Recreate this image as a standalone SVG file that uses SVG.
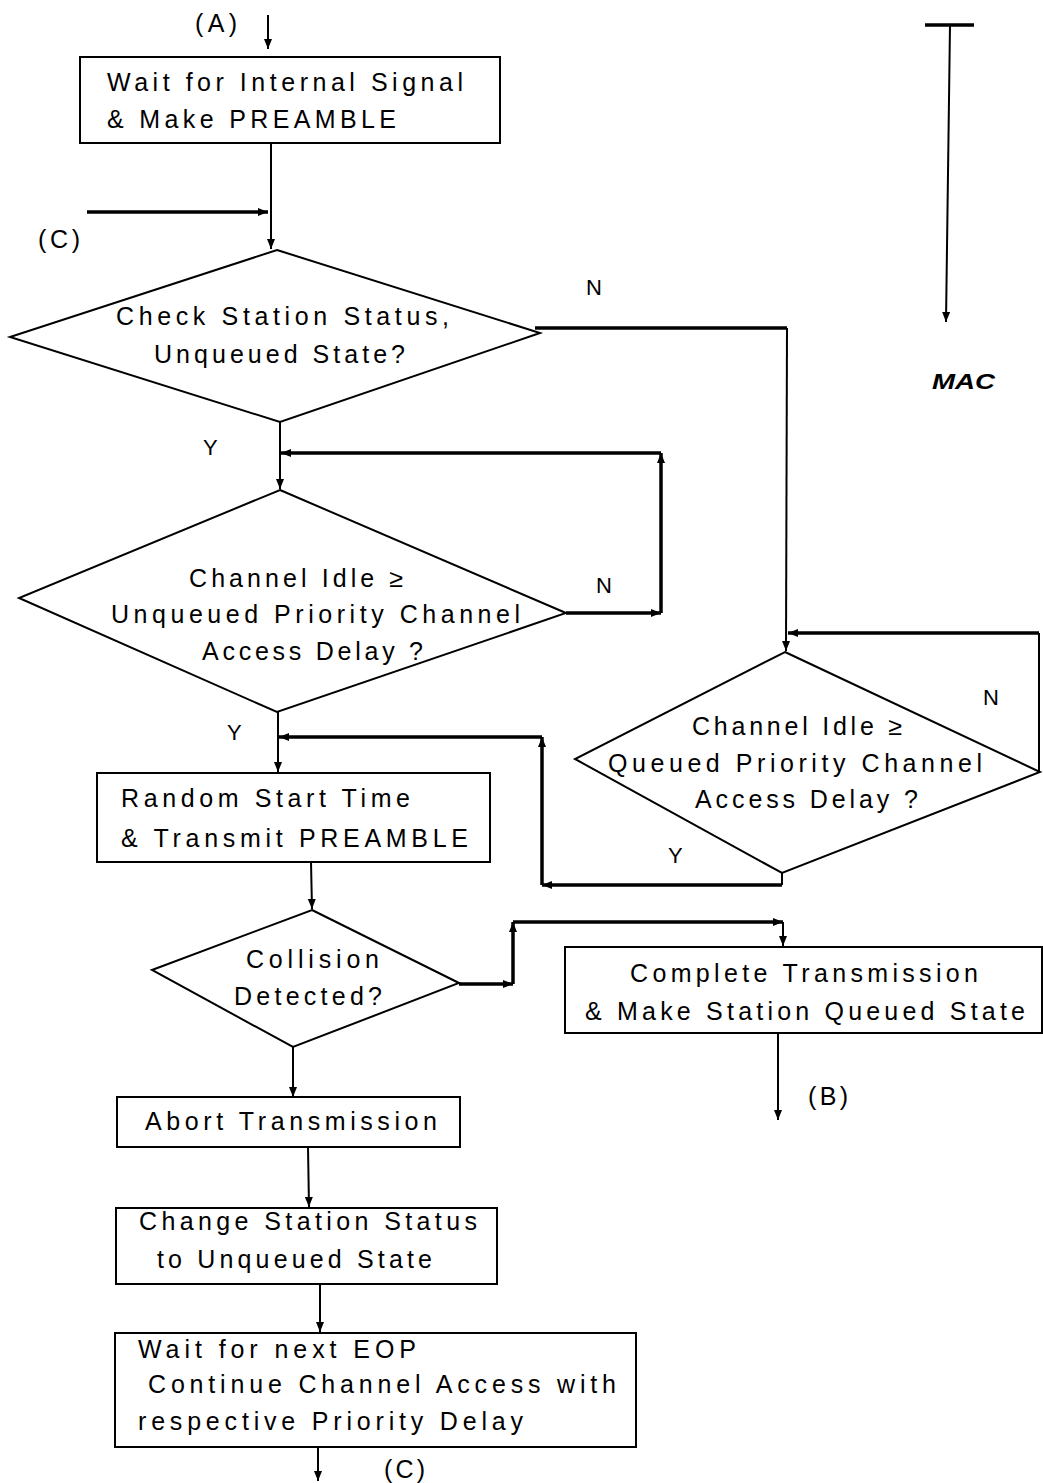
<svg xmlns="http://www.w3.org/2000/svg" width="1043" height="1483" viewBox="0 0 1043 1483">
<style>
.t{font-family:"Liberation Sans",Arial,sans-serif;font-size:25px;fill:#000}
.l{font-family:"Liberation Sans",Arial,sans-serif;font-size:22px;fill:#000}
.s{fill:#fff;stroke:#000;stroke-width:2}
.c{fill:none;stroke:#000;stroke-width:2}
.k{fill:none;stroke:#000;stroke-width:3.5}
</style>
<defs>
<marker id="a" markerUnits="userSpaceOnUse" markerWidth="12" markerHeight="10" refX="10" refY="5" orient="auto">
<path d="M0,1 L10,5 L0,9 Z" fill="#000"/>
</marker>
</defs>
<rect width="1043" height="1483" fill="#fff"/>

<g id="connectors">
<line class="c" x1="268" y1="15" x2="268" y2="49" marker-end="url(#a)"/>
<line class="c" x1="271" y1="143" x2="271" y2="249" marker-end="url(#a)"/>
<line class="k" x1="87" y1="212" x2="268" y2="212" marker-end="url(#a)"/>
<polyline class="k" points="535,328 787,328"/>
<line class="c" x1="787" y1="328" x2="786" y2="651" marker-end="url(#a)"/>
<line class="c" x1="280" y1="422" x2="280" y2="489" marker-end="url(#a)"/>
<line class="k" x1="566" y1="613" x2="661" y2="613" marker-end="url(#a)"/>
<line class="k" x1="661" y1="613" x2="661" y2="453" marker-end="url(#a)"/>
<line class="k" x1="661" y1="453" x2="281" y2="453" marker-end="url(#a)"/>
<line class="c" x1="278" y1="712" x2="278" y2="772" marker-end="url(#a)"/>
<line class="c" x1="1039" y1="772" x2="1039" y2="633"/>
<line class="k" x1="1039" y1="633" x2="788" y2="633" marker-end="url(#a)"/>
<line class="c" x1="782" y1="873" x2="782" y2="885"/>
<line class="k" x1="782" y1="885" x2="542" y2="885" marker-end="url(#a)"/>
<line class="k" x1="542" y1="885" x2="542" y2="737" marker-end="url(#a)"/>
<line class="k" x1="542" y1="737" x2="279" y2="737" marker-end="url(#a)"/>
<line class="c" x1="311" y1="862" x2="312" y2="909" marker-end="url(#a)"/>
<line class="k" x1="459" y1="984" x2="513" y2="984" marker-end="url(#a)"/>
<line class="k" x1="513" y1="984" x2="513" y2="922" marker-end="url(#a)"/>
<line class="k" x1="513" y1="922" x2="783" y2="922" marker-end="url(#a)"/>
<line class="c" x1="783" y1="922" x2="783" y2="946" marker-end="url(#a)"/>
<line class="c" x1="778" y1="1033" x2="778" y2="1120" marker-end="url(#a)"/>
<line class="c" x1="293" y1="1047" x2="293" y2="1097" marker-end="url(#a)"/>
<line class="c" x1="308" y1="1147" x2="309" y2="1207" marker-end="url(#a)"/>
<line class="c" x1="320" y1="1284" x2="320" y2="1332" marker-end="url(#a)"/>
<line class="c" x1="318" y1="1447" x2="318" y2="1481" marker-end="url(#a)"/>
<line class="k" x1="925" y1="25" x2="974" y2="25"/>
<line class="c" x1="950" y1="25" x2="946" y2="322" marker-end="url(#a)"/>
</g>

<g id="box1">
<rect class="s" x="80" y="57" width="420" height="86"/>
<text class="t" x="107" y="91" textLength="356" lengthAdjust="spacing">Wait for Internal Signal</text>
<text class="t" x="107" y="128" textLength="289" lengthAdjust="spacing">&amp; Make PREAMBLE</text>
</g>

<g id="decision1">
<polygon class="s" points="277,250 540,333 280,422 10,337"/>
<text class="t" x="116" y="325" textLength="333" lengthAdjust="spacing">Check Station Status,</text>
<text class="t" x="154" y="363" textLength="251" lengthAdjust="spacing">Unqueued State?</text>
</g>

<g id="decision2">
<polygon class="s" points="280,490 566,613 277,712 19,598"/>
<text class="t" x="189" y="587" textLength="214" lengthAdjust="spacing">Channel Idle ≥</text>
<text class="t" x="111" y="623" textLength="409" lengthAdjust="spacing">Unqueued Priority Channel</text>
<text class="t" x="202" y="660" textLength="221" lengthAdjust="spacing">Access Delay ?</text>
</g>

<g id="box2">
<rect class="s" x="97" y="773" width="393" height="89"/>
<text class="t" x="121" y="807" textLength="289" lengthAdjust="spacing">Random Start Time</text>
<text class="t" x="121" y="847" textLength="347" lengthAdjust="spacing">&amp; Transmit PREAMBLE</text>
</g>

<g id="decision3">
<polygon class="s" points="785,652 1040,772 782,873 575,759"/>
<text class="t" x="692" y="735" textLength="210" lengthAdjust="spacing">Channel Idle ≥</text>
<text class="t" x="608" y="772" textLength="374" lengthAdjust="spacing">Queued Priority Channel</text>
<text class="t" x="695" y="808" textLength="223" lengthAdjust="spacing">Access Delay ?</text>
</g>

<g id="decision4">
<polygon class="s" points="312,910 459,983 293,1047 152,970"/>
<text class="t" x="246" y="968" textLength="133" lengthAdjust="spacing">Collision</text>
<text class="t" x="234" y="1005" textLength="148" lengthAdjust="spacing">Detected?</text>
</g>

<g id="box3">
<rect class="s" x="565" y="947" width="477" height="86"/>
<text class="t" x="630" y="982" textLength="348" lengthAdjust="spacing">Complete Transmission</text>
<text class="t" x="585" y="1020" textLength="440" lengthAdjust="spacing">&amp; Make Station Queued State</text>
</g>

<g id="box4">
<rect class="s" x="117" y="1097" width="343" height="50"/>
<text class="t" x="145" y="1130" textLength="292" lengthAdjust="spacing">Abort Transmission</text>
</g>

<g id="box5">
<rect class="s" x="116" y="1208" width="381" height="76"/>
<text class="t" x="139" y="1230" textLength="338" lengthAdjust="spacing">Change Station Status</text>
<text class="t" x="157" y="1268" textLength="275" lengthAdjust="spacing">to Unqueued State</text>
</g>

<g id="box6">
<rect class="s" x="115" y="1333" width="521" height="114"/>
<text class="t" x="138" y="1358" textLength="278" lengthAdjust="spacing">Wait for next EOP</text>
<text class="t" x="148" y="1393" textLength="468" lengthAdjust="spacing">Continue Channel Access with</text>
<text class="t" x="138" y="1430" textLength="385" lengthAdjust="spacing">respective Priority Delay</text>
</g>

<g id="labels">
<text class="t" x="195" y="32" textLength="42" lengthAdjust="spacing">(A)</text>
<text class="t" x="38" y="248" textLength="42" lengthAdjust="spacing">(C)</text>
<text class="t" x="808" y="1105" textLength="40" lengthAdjust="spacing">(B)</text>
<text class="t" x="384" y="1478" textLength="41" lengthAdjust="spacing">(C)</text>
<text class="l" x="586" y="295">N</text>
<text class="l" x="203" y="455">Y</text>
<text class="l" x="596" y="593">N</text>
<text class="l" x="227" y="740">Y</text>
<text class="l" x="983" y="705">N</text>
<text class="l" x="668" y="863">Y</text>
<text x="932" y="389" style="font-family:'Liberation Sans',Arial,sans-serif;font-size:22px;font-weight:bold;font-style:italic" textLength="63" lengthAdjust="spacingAndGlyphs">MAC</text>
</g>
</svg>
